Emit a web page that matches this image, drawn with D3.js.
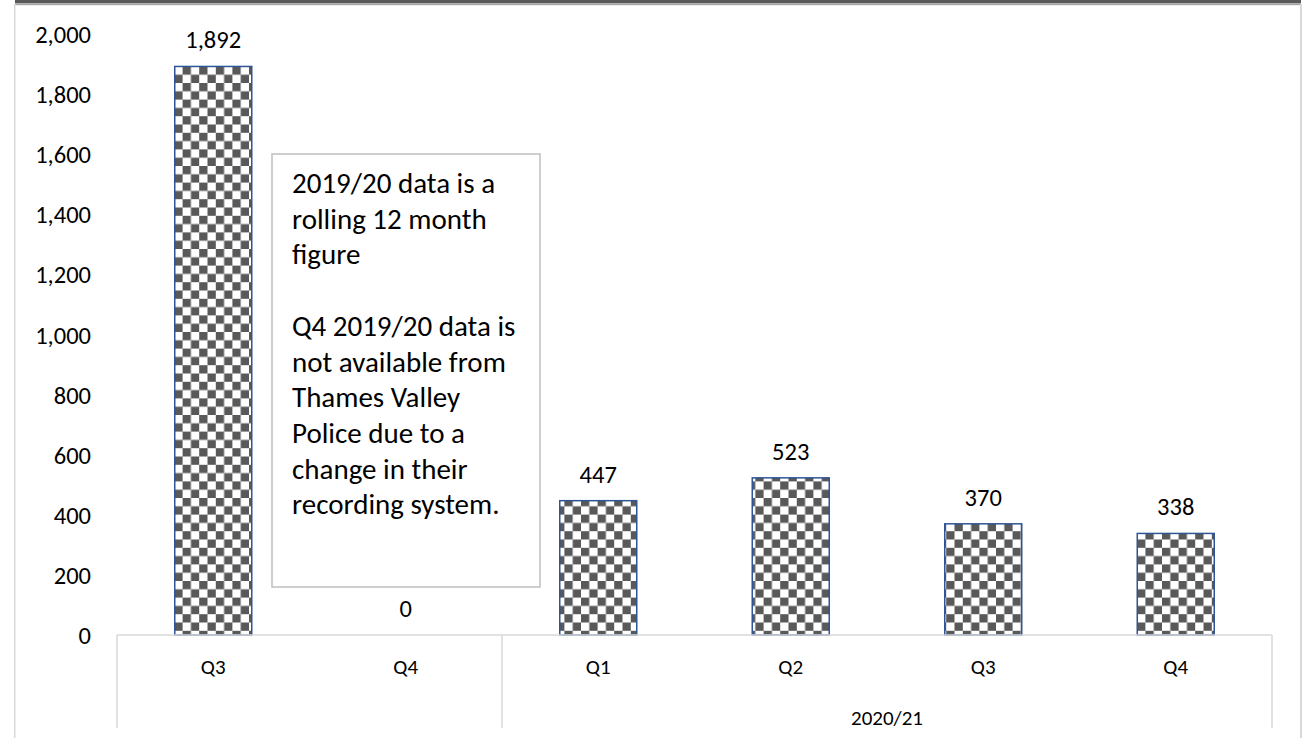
<!DOCTYPE html>
<html>
<head>
<meta charset="utf-8">
<script src="https://cdn.jsdelivr.net/npm/d3@7"></script>
<style>
  body { margin: 0; background: #fff; }
  text { font-family: Carlito, Calibri, Lato, sans-serif; fill: #000; }
</style>
</head>
<body>
<svg id="chart" width="1304" height="738"></svg>
<script>
// data
var quarters = ["Q3", "Q4", "Q1", "Q2", "Q3", "Q4"];
var groups = ["", "", "2020/21", "2020/21", "2020/21", "2020/21"];
var values = [1892, 0, 447, 523, 370, 338];
var yTicks = [0, 200, 400, 600, 800, 1000, 1200, 1400, 1600, 1800, 2000];
var noteLines = ["2019/20 data is a", "rolling 12 month", "figure", "",
  "Q4 2019/20 data is", "not available from", "Thames Valley",
  "Police due to a", "change in their", "recording system."];

var svg = d3.select("#chart");
var plotLeft = 117, plotRight = 1272, plotBase = 635, plotTop = 34;

// frame around the chart area
svg.append("rect").attr("x", 15).attr("y", 0).attr("width", 1286).attr("height", 3.2).attr("fill", "#595959");
svg.append("rect").attr("x", 15).attr("y", 3.2).attr("width", 1286).attr("height", 2).attr("fill", "#a6a6a6");
svg.append("rect").attr("x", 14).attr("y", 4).attr("width", 1.5).attr("height", 734).attr("fill", "#d9d9d9");
svg.append("rect").attr("x", 1300).attr("y", 4).attr("width", 2).attr("height", 734).attr("fill", "#d9d9d9");

// checkerboard fill
var defs = svg.append("defs");
var cell = 8.3;
var pat = defs.append("pattern").attr("id", "checker")
  .attr("patternUnits", "userSpaceOnUse")
  .attr("width", cell * 2).attr("height", cell * 2);
pat.append("rect").attr("width", cell * 2).attr("height", cell * 2).attr("fill", "#fff");
pat.append("rect").attr("width", cell).attr("height", cell).attr("fill", "#595959");
pat.append("rect").attr("x", cell).attr("y", cell).attr("width", cell).attr("height", cell).attr("fill", "#595959");

var x = d3.scaleBand().domain(d3.range(values.length)).range([plotLeft, plotRight]).paddingInner(0.6).paddingOuter(0.3);
var xBand = d3.scaleBand().domain(d3.range(values.length)).range([plotLeft, plotRight]);
var y = d3.scaleLinear().domain([0, 2000]).range([plotBase, plotTop]);

// y tick labels (no axis line)
var yAxis = svg.append("g").attr("transform", "translate(" + (plotLeft - 26) + ",0)")
  .call(d3.axisLeft(y).tickValues(yTicks).tickSize(0).tickPadding(0).tickFormat(d3.format(",")));
yAxis.select(".domain").remove();
yAxis.attr("font-family", null).attr("font-size", null);
yAxis.selectAll("text").attr("font-size", 24.5).attr("dy", "0.35em");

// bars
svg.selectAll(".bar").data(values).enter().append("rect")
  .attr("class", "bar")
  .attr("x", function(d, i) { return x(i); })
  .attr("y", function(d) { return y(d); })
  .attr("width", x.bandwidth())
  .attr("height", function(d) { return plotBase - y(d); })
  .attr("fill", "url(#checker)")
  .attr("stroke", function(d) { return d > 0 ? "#2f5597" : "none"; })
  .attr("stroke-width", 1.5);

// value labels
svg.selectAll(".barValue").data(values).enter().append("text")
  .attr("class", "barValue")
  .attr("x", function(d, i) { return xBand(i) + xBand.bandwidth() / 2; })
  .attr("y", function(d) { return y(d) - 18; })
  .attr("text-anchor", "middle")
  .attr("font-size", 24.5)
  .text(d3.format(","));

// category axis: baseline and group separators
svg.append("line").attr("x1", plotLeft).attr("x2", plotRight).attr("y1", plotBase).attr("y2", plotBase)
  .attr("stroke", "#d9d9d9").attr("stroke-width", 1.5);
var sepIdx = [0, 2, values.length];
svg.selectAll(".sep").data(sepIdx).enter().append("line")
  .attr("class", "sep")
  .attr("x1", function(i) { return i < values.length ? xBand(i) : plotRight; })
  .attr("x2", function(i) { return i < values.length ? xBand(i) : plotRight; })
  .attr("y1", plotBase).attr("y2", 728)
  .attr("stroke", "#d9d9d9").attr("stroke-width", 1.5);

svg.selectAll(".quarter").data(quarters).enter().append("text")
  .attr("class", "quarter")
  .attr("x", function(d, i) { return xBand(i) + xBand.bandwidth() / 2; })
  .attr("y", 667).attr("dy", "0.35em")
  .attr("text-anchor", "middle").attr("font-size", 21)
  .text(function(d) { return d; });

// group labels centred over their quarters
var groupNames = Array.from(new Set(groups)).filter(function(g) { return g; });
groupNames.forEach(function(g) {
  var idx = d3.range(groups.length).filter(function(i) { return groups[i] === g; });
  var gx0 = xBand(idx[0]), gx1 = xBand(idx[idx.length - 1]) + xBand.bandwidth();
  svg.append("text").attr("x", (gx0 + gx1) / 2).attr("y", 718).attr("dy", "0.35em")
    .attr("text-anchor", "middle").attr("font-size", 21).text(g);
});

// note box
svg.append("rect").attr("x", 272).attr("y", 154).attr("width", 268).attr("height", 433)
  .attr("fill", "#fff").attr("stroke", "#bfbfbf").attr("stroke-width", 1.5);
var note = svg.append("text").attr("font-size", 29);
noteLines.forEach(function(t, i) {
  note.append("tspan").attr("x", 292).attr("y", 193 + i * 35.7).text(t);
});
</script>
</body>
</html>
